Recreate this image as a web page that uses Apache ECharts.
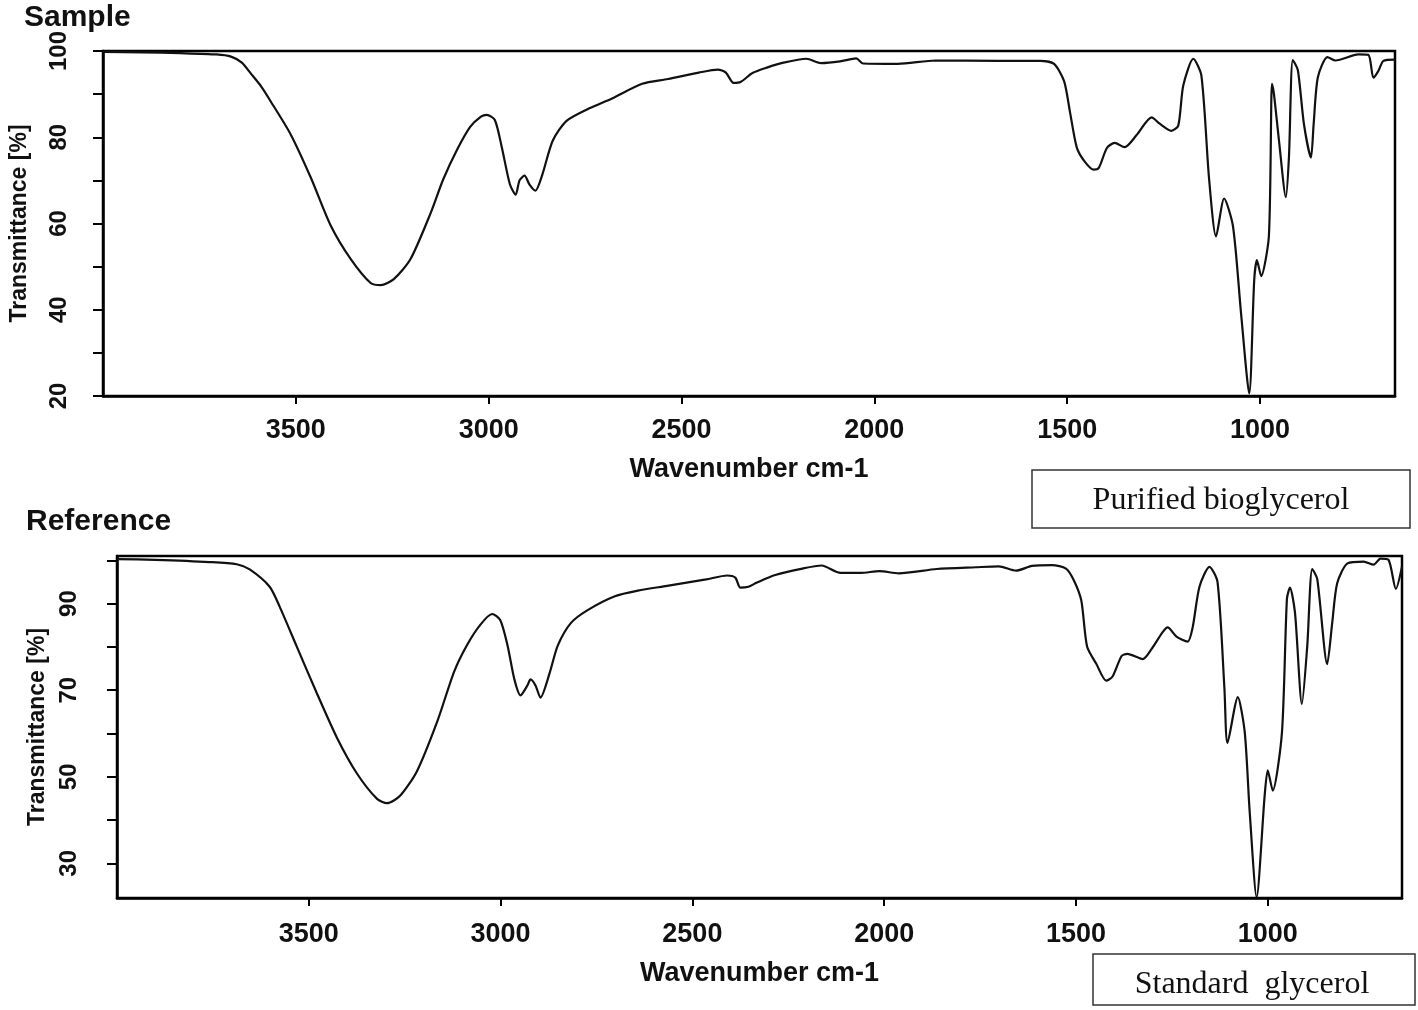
<!DOCTYPE html>
<html><head><meta charset="utf-8">
<script src="https://cdn.jsdelivr.net/npm/echarts@6/dist/echarts.min.js"></script>
<style>html,body{margin:0;padding:0;background:#fff}#c{width:1418px;height:1010px}</style>
</head><body><div id="c"></div>
<script>
// Sample (purified bioglycerol) spectrum: wavenumber (cm-1) and transmittance (%)
const sampleWn = [4000,3900,3800,3706,3668,3640,3616,3590,3565,3513,3461,3410,3358,3306,3280,3246,3203,3151,3118,3082,3048,3020,3005,2984,2966,2945,2930,2920,2907,2894,2879,2861,2834,2798,2739,2680,2602,2535,2455,2406,2385,2365,2347,2316,2277,2236,2176,2138,2089,2047,2029,1939,1841,1681,1570,1534,1508,1493,1475,1454,1431,1418,1397,1377,1351,1320,1281,1261,1230,1212,1199,1173,1152,1132,1114,1093,1070,1049,1028,1015,1008,997,977,969,964,951,933,925,915,902,886,868,861,850,825,804,745,719,706,693,680,650];
const sampleT  = [99.8,99.7,99.5,99.2,98.7,97.3,94.7,91.8,88.3,80.6,70.6,59.6,51.8,46.2,45.7,47.1,51.7,62.3,70.2,77.1,82.4,84.8,85.2,84.0,77.7,69.1,66.7,70.0,71.1,69.0,67.6,71.3,79.2,83.8,86.7,89.0,92.4,93.5,95.0,95.7,95.0,92.6,92.8,94.9,96.2,97.3,98.2,97.2,97.6,98.3,97.1,97.0,97.8,97.7,97.7,97.0,93.0,86.0,77.6,74.3,72.5,72.9,77.5,78.7,77.7,80.5,84.6,83.2,81.5,82.7,92.0,98.2,94.3,70.3,57.0,65.8,59.3,39.0,20.6,46.9,51.5,47.8,57.1,92.4,90.1,79.4,66.1,75.4,97.9,95.6,83.0,75.3,83.0,93.9,98.6,97.8,99.2,99.1,93.8,95.4,97.7,98.0];
// Reference (standard glycerol) spectrum
const refWn = [4000,3900,3759,3688,3654,3602,3576,3531,3479,3427,3374,3322,3296,3262,3218,3165,3121,3087,3053,3022,3001,2982,2964,2948,2930,2922,2909,2896,2872,2851,2817,2773,2702,2642,2566,2464,2409,2388,2375,2354,2333,2284,2213,2163,2114,2061,2012,1962,1863,1761,1701,1656,1615,1562,1526,1505,1486,1471,1447,1421,1405,1381,1366,1326,1303,1274,1261,1238,1209,1196,1178,1152,1131,1113,1105,1078,1060,1047,1029,1008,1000,987,963,950,942,929,911,897,884,871,845,832,819,792,750,724,706,685,666,650];
const refT  = [100.3,100.1,99.6,99.1,97.9,93.9,89.3,80.0,69.3,59.1,50.7,44.9,43.9,45.6,51.3,62.8,74.3,80.5,85.1,87.6,86.2,80.4,72.5,68.8,71.1,72.5,71.1,68.3,74.0,80.3,85.5,88.5,91.7,93.0,94.1,95.6,96.5,96.0,93.7,93.9,94.8,96.6,98.1,98.8,97.1,97.1,97.5,97.0,98.0,98.4,98.6,97.6,98.7,98.9,98.1,95.3,90.7,80.1,76.1,72.2,73.1,77.9,78.4,77.2,79.5,83.4,84.5,82.4,81.2,84.4,93.9,98.5,95.0,70.5,57.8,68.4,60.3,41.8,22.2,45.7,51.5,46.8,60.2,91.1,93.7,87.9,66.8,80.2,98.0,95.7,76.0,85.5,94.7,99.3,99.7,99.0,100.4,100.1,93.4,98.5];
// Tick labels
const xTicks = [1000,1500,2000,2500,3000,3500];
const topYTicks = [20,30,40,50,60,70,80,90,100];
const topYLabels = [20,40,60,80,100];
const botYTicks = [30,40,50,60,70,80,90,100];
const botYLabels = [30,50,70,90];

const sans = "'Liberation Sans',Arial,sans-serif";
const serif = "'Liberation Serif','Times New Roman',serif";

function xAxis(gi, margin, nameGap) {
  return {
    type:'value', gridIndex:gi, inverse:true, min:650, max:4000,
    name:'Wavenumber cm-1', nameLocation:'middle', nameGap:nameGap,
    nameTextStyle:{fontFamily:sans,fontWeight:'bold',fontSize:27,color:'#111'},
    axisLine:{show:true,lineStyle:{color:'#000',width:2.5}},
    axisTick:{show:true,customValues:xTicks,length:8,lineStyle:{color:'#000',width:2}},
    axisLabel:{show:true,customValues:xTicks,margin:margin,formatter:v=>String(v),
               fontFamily:sans,fontWeight:'bold',fontSize:27,color:'#111'},
    splitLine:{show:false}
  };
}
function yAxis(gi, min, max, ticks, labels, margin, nameGap) {
  return {
    type:'value', gridIndex:gi, min:min, max:max,
    name:'Transmittance [%]', nameLocation:'middle', nameGap:nameGap,
    nameTextStyle:{fontFamily:sans,fontWeight:'bold',fontSize:23,color:'#111'},
    axisLine:{show:true,lineStyle:{color:'#000',width:2.5}},
    axisTick:{show:true,customValues:ticks,length:10,lineStyle:{color:'#000',width:2}},
    axisLabel:{show:true,customValues:labels,rotate:90,margin:margin,formatter:v=>String(v),
               fontFamily:sans,fontWeight:'bold',fontSize:24,color:'#111'},
    splitLine:{show:false}
  };
}

const chart = echarts.init(document.getElementById('c'), null, {renderer:'canvas'});
chart.setOption({
  backgroundColor:'#fff',
  animation:false,
  title:[
    {text:'Sample',left:24,top:3,padding:0,textStyle:{fontFamily:sans,fontWeight:'bold',fontSize:30,color:'#111'}},
    {text:'Reference',left:26,top:507,padding:0,textStyle:{fontFamily:sans,fontWeight:'bold',fontSize:30,color:'#111'}}
  ],
  grid:[
    {left:103,top:51,width:1292,height:345,show:true,borderColor:'#000',borderWidth:2.5,backgroundColor:'transparent'},
    {left:117,top:556,width:1285,height:342,show:true,borderColor:'#000',borderWidth:2.5,backgroundColor:'transparent'}
  ],
  xAxis:[xAxis(0,21,60), xAxis(1,23,62)],
  yAxis:[yAxis(0,20,100,topYTicks,topYLabels,32,72), yAxis(1,22,101,botYTicks,botYLabels,36,68)],
  series:[
    {type:'line',xAxisIndex:0,yAxisIndex:0,showSymbol:false,smooth:0.25,
     lineStyle:{color:'#111',width:2.2},data:sampleWn.map((w,i)=>[w,sampleT[i]])},
    {type:'line',xAxisIndex:1,yAxisIndex:1,showSymbol:false,smooth:0.25,
     lineStyle:{color:'#111',width:2.2},data:refWn.map((w,i)=>[w,refT[i]])}
  ],
  graphic:[
    {type:'rect',shape:{x:1032,y:470,width:378,height:58},style:{fill:'#fff',stroke:'#333',lineWidth:1.5}},
    {type:'text',x:1221,y:501,style:{text:'Purified bioglycerol',font:'32px '+serif,fill:'#111',textAlign:'center',textVerticalAlign:'middle'}},
    {type:'rect',shape:{x:1093,y:954,width:322,height:51},style:{fill:'#fff',stroke:'#333',lineWidth:1.5}},
    {type:'text',x:1252,y:985,style:{text:'Standard  glycerol',font:'32px '+serif,fill:'#111',textAlign:'center',textVerticalAlign:'middle'}}
  ]
});
</script></body></html>
